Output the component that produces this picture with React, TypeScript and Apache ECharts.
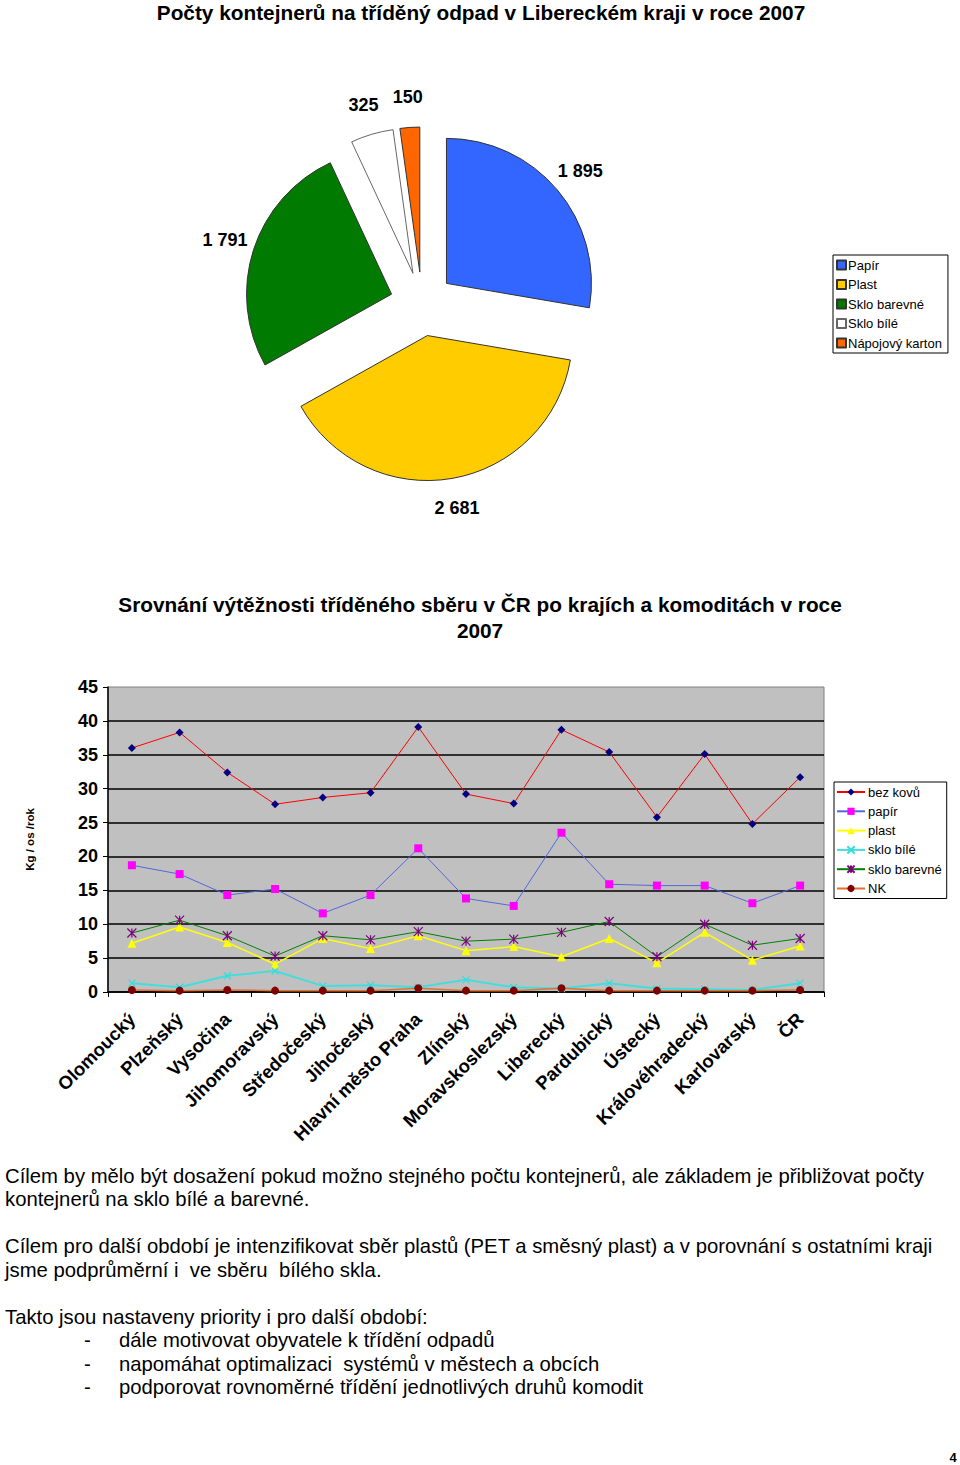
import React, { useEffect, useRef } from "react";
import * as echarts from "echarts";

const FONT = '"Liberation Sans", Arial, sans-serif';

// Pie chart data
const pieNames = ["Papír", "Plast", "Sklo barevné", "Sklo bílé", "Nápojový karton"];
const pieValues = [1895, 2681, 1791, 325, 150];
const pieColors = ["#3366FF", "#FFCC00", "#007A00", "#FFFFFF", "#FF6600"];

// Line chart data
const regions = [
  "Olomoucký", "Plzeňský", "Vysočina", "Jihomoravský", "Středočeský", "Jihočeský",
  "Hlavní město Praha", "Zlínský", "Moravskoslezský", "Liberecký", "Pardubický",
  "Ústecký", "Královéhradecký", "Karlovarský", "ČR",
];
const bezKovu = [36.0, 38.3, 32.4, 27.7, 28.7, 29.4, 39.1, 29.2, 27.8, 38.7, 35.4, 25.8, 35.1, 24.8, 31.7];
const papir = [18.7, 17.4, 14.3, 15.2, 11.6, 14.3, 21.2, 13.8, 12.7, 23.5, 15.9, 15.7, 15.7, 13.1, 15.7];
const plast = [7.2, 9.6, 7.3, 4.1, 7.9, 6.4, 8.3, 6.1, 6.7, 5.2, 7.9, 4.3, 8.8, 4.7, 6.8];
const skloBile = [1.3, 0.7, 2.4, 3.1, 0.9, 1.0, 0.7, 1.8, 0.7, 0.5, 1.3, 0.5, 0.4, 0.3, 1.3];
const skloBarevne = [8.7, 10.6, 8.3, 5.3, 8.3, 7.7, 8.9, 7.5, 7.8, 8.8, 10.4, 5.2, 10.0, 6.9, 7.9];
const nk = [0.3, 0.2, 0.3, 0.2, 0.2, 0.2, 0.55, 0.2, 0.2, 0.55, 0.2, 0.2, 0.2, 0.2, 0.3];
const yTicks = { min: 0, max: 45, interval: 5 };

const paragraphs: { x: number; y: number; text: string }[] = [
  { x: 5, y: 1176, text: "Cílem by mělo být dosažení pokud možno stejného počtu kontejnerů, ale základem je přibližovat počty" },
  { x: 5, y: 1199, text: "kontejnerů na sklo bílé a barevné." },
  { x: 5, y: 1246, text: "Cílem pro další období je intenzifikovat sběr plastů (PET a směsný plast) a v porovnání s ostatními kraji" },
  { x: 5, y: 1270, text: "jsme podprůměrní i  ve sběru  bílého skla." },
  { x: 5, y: 1317, text: "Takto jsou nastaveny priority i pro další období:" },
  { x: 84, y: 1340, text: "-" },
  { x: 119, y: 1340, text: "dále motivovat obyvatele k třídění odpadů" },
  { x: 84, y: 1364, text: "-" },
  { x: 119, y: 1364, text: "napomáhat optimalizaci  systémů v městech a obcích" },
  { x: 84, y: 1387, text: "-" },
  { x: 119, y: 1387, text: "podporovat rovnoměrné třídění jednotlivých druhů komodit" },
];

const fmtThousands = (v: number) => String(v).replace(/\B(?=(\d{3})+(?!\d))/g, " ");

export default function App() {
  const ref = useRef<HTMLDivElement>(null);
  useEffect(() => {
    if (!ref.current) return;
    const chart = echarts.init(ref.current, null, { renderer: "svg" });
    const pieData = pieNames.map((n, i) => ({
      name: n,
      value: pieValues[i],
      selected: true,
      itemStyle: {
        color: pieColors[i],
        borderColor: i === 3 ? "#666" : "#333",
        borderWidth: 1,
      },
    }));
    const labelData = pieNames.map((n, i) => ({ name: n, value: pieValues[i] }));

    const lineCommon = {
      type: "line",
      xAxisIndex: 0,
      yAxisIndex: 0,
      showAllSymbol: true,
    };

    const option: any = {
      animation: false,
      backgroundColor: "#fff",
      textStyle: { fontFamily: FONT },
      title: [
        {
          text: "Počty kontejnerů na tříděný odpad v Libereckém kraji v roce 2007",
          left: 476,
          top: -3,
          textAlign: "center",
          textStyle: { fontFamily: FONT, fontSize: 20.8, fontWeight: "bold", color: "#000" },
        },
        {
          text: "Srovnání výtěžnosti tříděného sběru v ČR po krajích a komoditách v roce\n2007",
          left: 475,
          top: 586,
          textAlign: "center",
          textStyle: { fontFamily: FONT, fontSize: 20.8, fontWeight: "bold", color: "#000", lineHeight: 26 },
        },
      ],
      legend: [
        {
          data: pieNames,
          orient: "vertical",
          left: 833,
          top: 255,
          icon: "rect",
          itemWidth: 9,
          itemHeight: 9,
          itemGap: 5.5,
          padding: [3, 6, 3, 3],
          borderColor: "#000",
          borderWidth: 1,
          backgroundColor: "#fff",
          selectedMode: false,
          textStyle: { fontFamily: FONT, fontSize: 13, lineHeight: 14, color: "#000", padding: [0, 0, 0, -3] },
        },
        {
          data: ["bez kovů", "papír", "plast", "sklo bílé", "sklo barevné", "NK"],
          orient: "vertical",
          left: 834,
          top: 782,
          itemWidth: 28,
          itemHeight: 9,
          itemGap: 5.3,
          padding: [3, 5, 3, 2],
          borderColor: "#000",
          borderWidth: 1,
          backgroundColor: "#fff",
          selectedMode: false,
          textStyle: { fontFamily: FONT, fontSize: 13, lineHeight: 14, color: "#000", padding: [0, 0, 0, -2] },
        },
      ],
      grid: {
        left: 108,
        right: 136,
        top: 687,
        bottom: 473,
        show: true,
        backgroundColor: "#C0C0C0",
        borderColor: "#808080",
        borderWidth: 1,
      },
      xAxis: {
        type: "category",
        data: regions,
        boundaryGap: true,
        axisLine: { lineStyle: { color: "#000", width: 1.5 } },
        axisTick: { show: true, length: 5, inside: false, lineStyle: { color: "#000" } },
        axisLabel: {
          interval: 0,
          rotate: 45,
          margin: 24,
          fontFamily: FONT,
          fontSize: 18.5,
          fontWeight: "bold",
          color: "#000",
        },
      },
      yAxis: {
        type: "value",
        min: yTicks.min,
        max: yTicks.max,
        interval: yTicks.interval,
        name: "Kg / os /rok",
        nameLocation: "middle",
        nameRotate: 90,
        nameGap: 72,
        nameTextStyle: { fontFamily: FONT, fontSize: 11.5, fontWeight: "bold", color: "#000" },
        axisLine: { show: true, lineStyle: { color: "#000", width: 1.5 } },
        axisTick: { show: true, length: 5, inside: false, lineStyle: { color: "#000" } },
        axisLabel: { margin: 10, fontFamily: FONT, fontSize: 18, fontWeight: "bold", color: "#000" },
        splitLine: { show: true, showMaxLine: false, lineStyle: { color: "#000", width: 1.5 } },
      },
      series: [
        {
          type: "pie",
          name: "Počty kontejnerů",
          center: [422, 304],
          radius: 145,
          startAngle: 90,
          clockwise: true,
          selectedMode: "multiple",
          selectedOffset: 32,
          avoidLabelOverlap: false,
          label: { show: false },
          labelLine: { show: false },
          emphasis: { disabled: true },
          data: pieData,
        },
        {
          type: "pie",
          name: "labels",
          center: [422, 304],
          radius: [194, 214],
          startAngle: 90,
          clockwise: true,
          silent: true,
          avoidLabelOverlap: false,
          itemStyle: { color: "rgba(0,0,0,0)", borderWidth: 0 },
          label: {
            show: true,
            position: "inside",
            formatter: (p: any) => fmtThousands(p.value),
            fontFamily: FONT,
            fontSize: 18,
            fontWeight: "bold",
            color: "#000",
          },
          labelLine: { show: false },
          emphasis: { disabled: true },
          data: labelData,
        },
        {
          ...lineCommon,
          name: "bez kovů",
          data: bezKovu,
          symbol: "diamond",
          symbolSize: 8,
          itemStyle: { color: "#000080" },
          lineStyle: { color: "#FF0000", width: 1 },
        },
        {
          ...lineCommon,
          name: "papír",
          data: papir,
          symbol: "rect",
          symbolSize: 8,
          itemStyle: { color: "#FF00FF" },
          lineStyle: { color: "#5566DD", width: 1 },
        },
        {
          ...lineCommon,
          name: "plast",
          data: plast,
          symbol: "triangle",
          symbolSize: 9,
          itemStyle: { color: "#FFFF00" },
          lineStyle: { color: "#FFFF00", width: 1.5 },
        },
        {
          ...lineCommon,
          name: "sklo bílé",
          data: skloBile,
          symbol: "path://M0,0L10,10M10,0L0,10",
          symbolSize: 7,
          itemStyle: { color: "#33DDDD", borderColor: "#33DDDD", borderWidth: 1.2 },
          lineStyle: { color: "#44DDDD", width: 2 },
        },
        {
          ...lineCommon,
          name: "sklo barevné",
          data: skloBarevne,
          symbol: "path://M5,0L5,10M0,0L10,10M10,0L0,10",
          symbolSize: 9,
          itemStyle: { color: "#800080", borderColor: "#800080", borderWidth: 1.2 },
          lineStyle: { color: "#008000", width: 1 },
        },
        {
          ...lineCommon,
          name: "NK",
          data: nk,
          symbol: "circle",
          symbolSize: 8,
          itemStyle: { color: "#800000" },
          lineStyle: { color: "#E07030", width: 1.5 },
        },
      ],
      graphic: [
        ...paragraphs.map((p) => ({
          type: "text",
          x: p.x,
          y: p.y,
          silent: true,
          style: {
            text: p.text,
            fontFamily: FONT,
            fontSize: 20.3,
            fill: "#000",
            verticalAlign: "middle",
          },
        })),
        {
          type: "text",
          x: 953,
          y: 1457,
          silent: true,
          style: {
            text: "4",
            fontFamily: FONT,
            fontSize: 13,
            fontWeight: "bold",
            fill: "#000",
            align: "center",
            verticalAlign: "middle",
          },
        },
      ],
    };
    chart.setOption(option);
    return () => chart.dispose();
  }, []);
  return (
    <div
      ref={ref}
      style={{ position: "absolute", left: 0, top: 0, width: 960, height: 1465, background: "#fff" }}
    />
  );
}
